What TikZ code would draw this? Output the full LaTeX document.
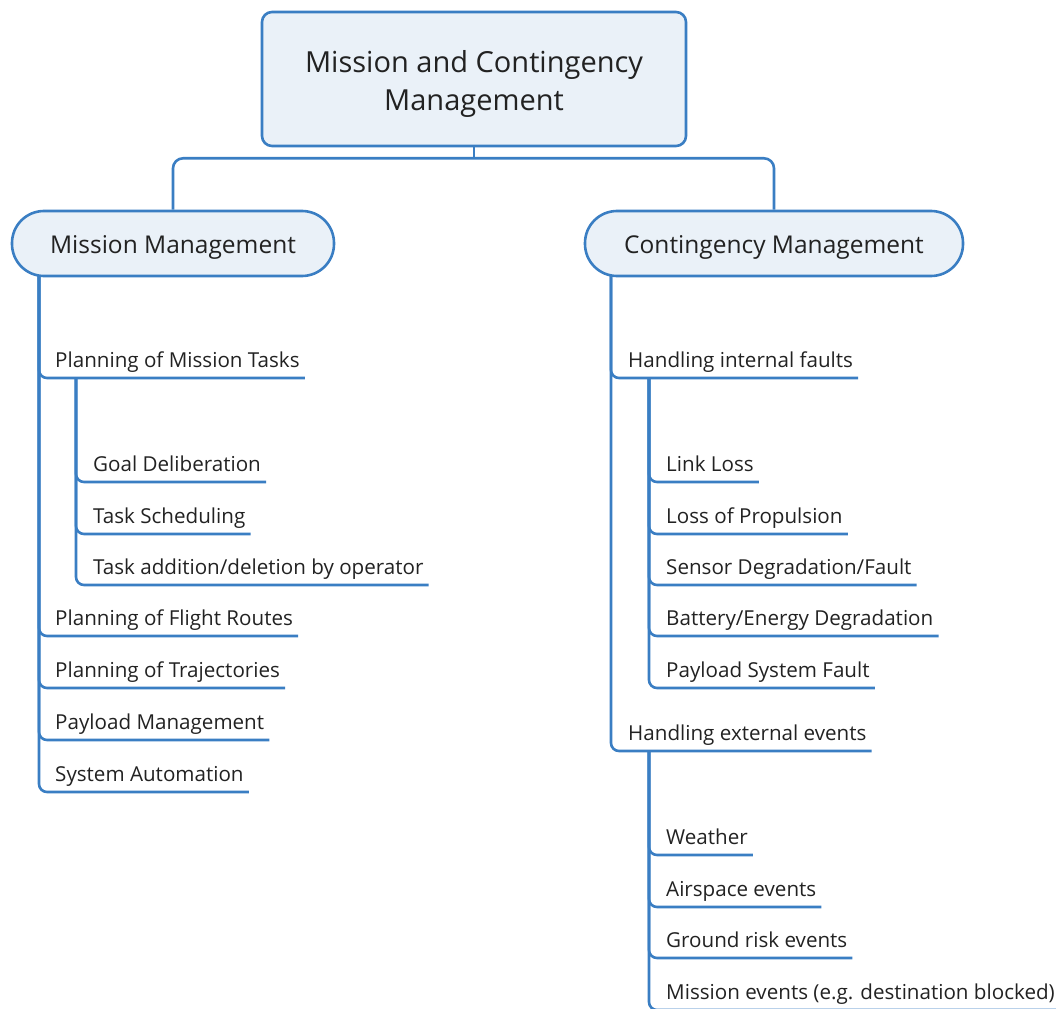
\documentclass[tikz,border=0pt]{standalone}
\usepackage{fontspec}
\setmainfont{Open Sans}
\usepackage{tikz}
\usetikzlibrary{calc}
\usetikzlibrary{positioning}
\definecolor{mapblue}{RGB}{58,126,195}
\definecolor{mapfill}{RGB}{234,241,248}
\definecolor{mapink}{RGB}{34,34,34}
\tikzstyle{central} = [draw=mapblue, fill=mapfill, line width=2.6pt, rounded corners=10pt,
    minimum width=424pt, minimum height=134pt, align=center, text=mapink,
    font=\fontsize{29}{38}\selectfont]
\tikzstyle{topic} = [draw=mapblue, fill=mapfill, line width=2.6pt, rounded corners=32pt,
    minimum height=65pt, text height=20pt, text depth=0pt, text=mapink,
    font=\fontsize{24.5}{29}\selectfont]
\tikzstyle{leaf} = [anchor=south west, inner xsep=5pt, inner ysep=0pt,
    text height=15pt, text depth=10.5pt, text=mapink,
    font=\fontsize{20.6}{24}\selectfont]
\tikzstyle{branch} = [draw=mapblue, line width=2.6pt, rounded corners=8pt]
\begin{document}
\begin{tikzpicture}[x=1pt, y=-1pt]
    \useasboundingbox (0,0) rectangle (1056,1008);
    % main boxes
    \node [central] at (474,79) (root) {\rule{0pt}{32pt}Mission and Contingency\\Management};
    \node [topic, minimum width=322pt] at (173,243.5) (mm) {Mission Management};
    \node [topic, minimum width=378pt] at (774,243.5) (cm) {Contingency Management};
    \coordinate (root-b) at ($(root.south)+(0,-11pt)$);
    \draw [branch] (root.south) -- (root-b);
    \draw [branch, rounded corners=10pt] (mm.north) |- (root-b) -| (cm.north);
    % mission side
    \coordinate (mm-t) at (39,276);
    \node [leaf] at (50,378) (pmt) {Planning of Mission Tasks};
    \coordinate (pmt-t) at (76,378);
    \node [leaf] at (88,482) (gd) {Goal Deliberation};
    \node [leaf] at (88,534) (ts) {Task Scheduling};
    \node [leaf] at (88,585) (tad) {Task addition/deletion by operator};
    \node [leaf] at (50,636) (pfr) {Planning of Flight Routes};
    \node [leaf] at (50,688) (pot) {Planning of Trajectories};
    \node [leaf] at (50,740) (plm) {Payload Management};
    \node [leaf] at (50,792) (sya) {System Automation};
    \foreach \n in {pmt,pfr,pot,plm,sya}
        \draw [branch] (mm-t) |- (\n.south east);
    \foreach \n in {gd,ts,tad}
        \draw [branch] (pmt-t) |- (\n.south east);
    % contingency side
    \coordinate (cm-t) at (611,275);
    \node [leaf] at (623,378) (hif) {Handling internal faults};
    \coordinate (hif-t) at (649,378);
    \node [leaf] at (661,482) (ll) {Link Loss};
    \node [leaf] at (661,534) (lp) {Loss of Propulsion};
    \node [leaf] at (661,585) (sdf) {Sensor Degradation/Fault};
    \node [leaf] at (661,636) (bed) {Battery/Energy Degradation};
    \node [leaf] at (661,688) (psf) {Payload System Fault};
    \node [leaf] at (623,751) (hee) {Handling external events};
    \coordinate (hee-t) at (649,751);
    \node [leaf] at (661,855) (wea) {Weather};
    \node [leaf] at (661,907) (ase) {Airspace events};
    \node [leaf] at (661,958) (gre) {Ground risk events};
    \node [leaf] at (661,1010) (mie) {Mission events (e.g. destination blocked)};
    \foreach \n in {hif,hee}
        \draw [branch] (cm-t) |- (\n.south east);
    \foreach \n in {ll,lp,sdf,bed,psf}
        \draw [branch] (hif-t) |- (\n.south east);
    \foreach \n in {wea,ase,gre,mie}
        \draw [branch] (hee-t) |- (\n.south east);
\end{tikzpicture}
\end{document}
